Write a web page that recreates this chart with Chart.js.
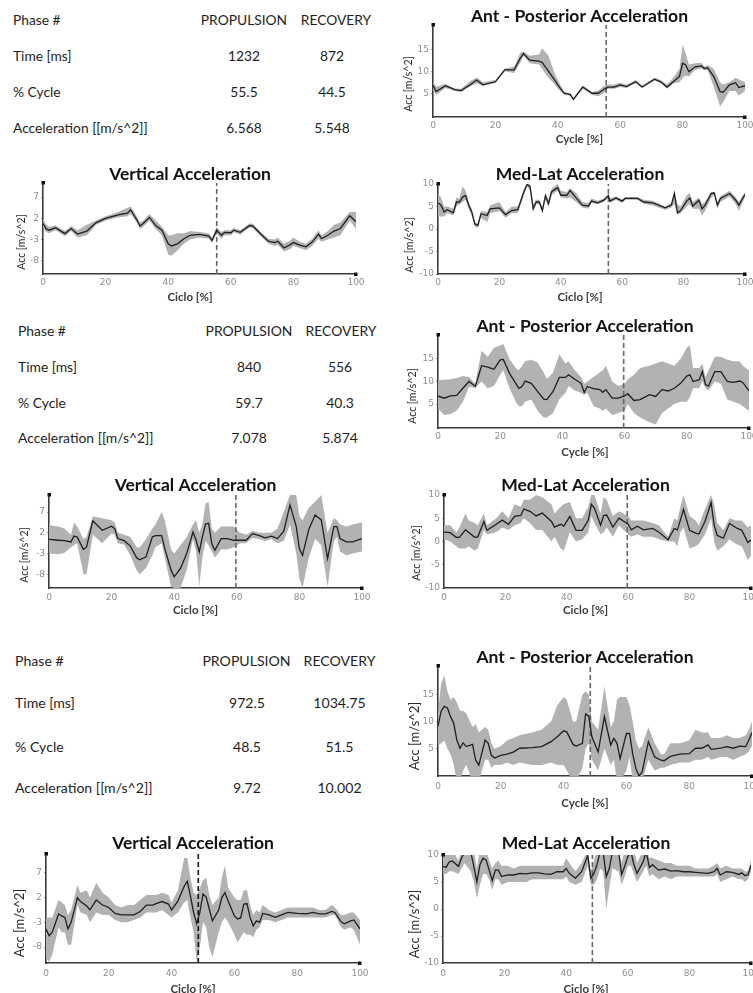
<!DOCTYPE html>
<html>
<head>
<meta charset="utf-8">
<script src="https://cdn.jsdelivr.net/npm/chart.js@4.4.1/dist/chart.umd.min.js"></script>
<style>
  html, body { margin: 0; padding: 0; background: #fff; }
  body { width: 753px; height: 993px; overflow: hidden; position: relative; font-family: Lato, sans-serif; }
  canvas { position: absolute; }
  .cell { position: absolute; white-space: nowrap; color: #1e1e1e; line-height: 1; }
</style>
</head>
<body>
<script>
// ---------- phase tables ----------
const phaseLabel = 'Phase #';
const phaseNames = ['PROPULSION', 'RECOVERY'];
const rowNames = ['Time [ms]', '% Cycle', 'Acceleration [[m/s^2]]'];

const timeMs1 = [1232, 872];
const cyclePct1 = [55.5, 44.5];
const accMean1 = [6.568, 5.548];

const timeMs2 = [840, 556];
const cyclePct2 = [59.7, 40.3];
const accMean2 = [7.078, 5.874];

const timeMs3 = [972.5, 1034.75];
const cyclePct3 = [48.5, 51.5];
const accMean3 = [9.72, 10.002];

// ---------- axis ticks and ranges ----------
const cycleTicksStep = 20;
const apTicks = [5, 10, 15];
const vertTicks = [-8, -3, 2, 7];
const mlTicks = [-10, -5, 0, 5, 10];

const apRange1 = [-0.4, 20.5];
const vertRange1 = [-11.1, 10.3];
const mlRange1 = [-10, 10];
const apRange2 = [-0.3, 20.3];
const vertRange2 = [-11.3, 11.1];
const mlRange2 = [-10, 10];
const apRange3 = [0, 20.2];
const vertRange3 = [-11.2, 10.8];
const mlRange3 = [-10, 10];

// ---------- trial 1 ----------
const apCycle1 = [0,1,4,7,9,12,14,16,20,23,26,28,29,31,34,35,37,39,40,42,44,45,48,51,53,55,56,58,60,62,65,67,71,73,75,77,79,80,81,82,84,86,87,88,90,92,93,95,97,98,100];
const apMean1  = [6.8,5.4,6.7,5.8,5.6,7.0,8.0,6.9,7.6,10.3,10.3,13.0,14.0,12.5,12.3,12.0,10.0,8.0,6.9,5.0,4.7,3.6,6.4,5.0,5.0,6.0,6.4,6.4,6.9,6.5,7.6,6.4,8.2,7.6,6.4,7.6,8.8,11.8,11.4,9.9,11.0,11.2,10.6,10.8,8.8,5.4,5.2,6.9,7.4,6.3,6.7];
const apLow1   = [5.8,4.6,6.2,5.5,5.3,6.6,7.2,6.7,7.3,10.0,9.6,12.0,13.5,11.8,11.5,10.5,8.5,7.0,6.0,4.7,4.4,3.4,6.0,4.6,4.3,5.2,6.0,6.0,6.4,6.2,7.3,6.2,7.9,7.3,6.0,7.2,7.5,8.5,9.0,8.8,10.3,10.6,10.2,10.3,6.5,2.0,3.0,5.5,5.5,4.5,5.5];
const apHigh1  = [7.8,6.5,7.1,6.1,6.0,7.8,8.6,7.5,8.0,10.6,11.0,14.2,14.5,13.5,13.8,15.2,13.5,9.5,8.0,5.3,5.0,3.9,6.8,5.3,5.6,6.8,6.9,7.0,7.4,6.9,8.0,6.7,8.5,8.0,7.0,8.5,10.5,16.0,14.0,11.5,11.8,11.9,11.0,11.4,10.5,7.5,7.0,7.5,8.5,8.2,7.5];

const vertCycle1 = [0,1,2,4,7,9,11,14,17,20,24,27,28,30,31,32,34,36,38,40,41,43,45,47,50,53,54,55.5,56,57,58,60,61,63,66,67,70,72,74,75,77,79,80,82,84,86,88,89,91,93,95,98,100];
const vertMean1  = [0.8,-0.5,-0.8,-0.2,-1.6,-0.4,-1.7,-1.0,1.0,2.0,2.8,3.2,4.0,1.6,0.2,0.8,2.2,0.3,-0.8,-4.0,-4.5,-4.0,-2.8,-2.0,-1.8,-2.2,-3.2,-0.8,-1.2,-2.0,-1.3,-1.4,-0.8,-1.3,0.3,0.2,-2.0,-3.4,-3.7,-3.4,-5.0,-4.2,-3.7,-4.3,-4.7,-3.6,-1.7,-2.8,-2.0,-1.0,-0.4,2.6,1.2];
const vertLow1   = [-0.3,-1.2,-1.5,-0.8,-2.2,-1.0,-2.5,-2.0,0.5,1.5,2.2,2.5,3.0,1.0,-0.5,0.0,1.5,-0.5,-2.0,-6.5,-6.8,-5.5,-4.0,-3.0,-2.5,-2.8,-3.8,-1.5,-2.0,-2.8,-2.0,-2.0,-1.3,-1.8,-0.2,-0.3,-2.5,-4.0,-4.5,-4.2,-5.8,-5.2,-4.5,-5.0,-5.5,-4.5,-2.8,-3.5,-3.0,-2.5,-2.0,1.5,-0.5];
const vertHigh1  = [2.0,0.5,0.0,0.3,-1.0,0.2,-0.8,0.5,1.5,2.5,3.5,4.5,4.8,2.5,1.0,1.5,3.0,1.5,0.0,-2.0,-2.0,-1.5,-1.5,-1.0,-1.2,-1.5,-2.5,0.0,-0.5,-1.2,-0.8,-0.8,-0.3,-0.8,0.8,0.7,-1.5,-2.8,-3.0,-2.5,-4.0,-3.2,-2.5,-3.5,-4.0,-2.8,-0.8,-2.0,-1.0,0.5,1.0,3.5,3.5];

const mlCycle1 = [0,1,2,3,5,6,7,8,9,10,11,12,13,14,16,17,20,22,24,26,28,29,30,31,32,33,34,35,36,37,39,40,42,43,45,47,49,50,52,54,55.5,56,58,60,61,65,67,70,74,76,77,78,79,81,82,83,85,86,87,89,90,91,92,95,97,98,100];
const mlMean1  = [5.8,5.3,3.8,4.3,3.6,6.0,6.0,7.1,7.4,5.3,3.8,1.1,0.8,3.4,3.0,4.5,4.7,3.2,4.1,4.3,8.3,9.9,9.4,4.5,6.0,6.0,4.1,7.4,5.6,8.3,9.2,7.5,7.5,8.6,6.9,5.3,5.1,6.2,5.8,6.4,7.4,6.2,6.9,6.2,6.8,6.8,6.0,5.8,4.7,5.3,7.9,3.6,4.1,6.2,6.9,5.1,6.4,4.5,5.3,7.9,8.0,5.3,6.8,7.9,6.4,5.3,7.7];
const mlLow1   = [2.8,2.8,2.8,3.5,3.0,5.0,5.5,6.0,6.5,4.5,3.0,0.5,0.3,2.5,1.5,3.5,4.0,2.5,3.5,3.5,7.5,9.5,8.5,3.8,5.5,5.5,3.5,6.5,5.0,7.5,8.5,7.0,6.8,7.0,6.0,4.8,4.5,5.8,5.5,6.0,7.0,5.8,6.5,5.8,6.5,6.5,5.6,5.2,4.3,4.8,5.5,3.2,3.5,5.0,5.5,4.5,4.5,3.0,4.0,7.0,7.5,4.5,6.0,7.2,5.5,4.0,7.2];
const mlHigh1  = [8.0,7.0,5.0,5.0,4.5,7.0,6.8,9.5,8.5,6.0,4.5,1.5,1.3,4.0,3.8,5.2,6.0,3.8,5.0,5.0,9.0,10.0,10.0,5.5,6.5,6.5,4.8,8.0,6.5,9.0,10.0,8.5,8.2,9.0,8.0,6.0,5.8,6.8,6.3,6.8,7.8,6.8,7.3,6.6,7.1,7.1,6.5,6.3,5.0,5.8,8.0,5.5,5.0,7.5,8.0,6.0,7.0,5.5,6.0,8.2,8.3,6.0,7.3,8.5,7.0,6.0,8.2];

// ---------- trial 2 ----------
const apCycle2 = [0,2,4,6,8,10,12,14,16,18,20,21,23,25,26,27,28,30,32,34,35,37,39,41,42,44,46,47,48,50,52,53,54,56,58,60,61,63,65,68,70,72,74,76,78,80,81,82,84,85,86,87,89,91,93,95,97,98,100];
const apMean2  = [6.8,6.3,6.8,6.9,8.5,10.0,8.9,13.5,13.2,12.7,14.8,14.9,11.8,9.6,8.5,8.9,10.1,9.6,7.8,6.1,6.0,7.8,10.9,10.9,11.5,10.5,9.6,7.6,8.9,8.4,8.2,7.6,8.2,6.3,6.3,6.8,7.3,5.8,6.0,7.1,6.7,8.2,7.9,8.5,9.6,11.2,11.5,10.0,10.4,12.2,9.3,9.0,12.2,12.2,10.0,9.8,10.1,9.8,7.9];
const apLow2   = [4.0,2.6,2.8,3.5,5.5,8.8,8.6,10.0,8.5,9.0,11.5,12.5,8.5,5.5,4.5,4.5,5.5,6.0,3.5,2.0,2.0,3.0,6.0,7.5,9.0,8.0,7.5,7.0,7.5,4.5,4.0,3.5,4.0,2.5,3.0,3.5,5.0,3.0,2.0,1.0,0.5,3.0,4.0,5.0,5.5,5.5,6.5,8.5,8.5,10.0,8.5,8.0,10.0,9.5,6.0,5.5,5.0,4.5,3.5];
const apHigh2  = [10.3,10.4,10.5,10.8,11.2,11.0,9.5,16.8,15.5,17.5,18.0,18.3,15.0,13.0,12.5,13.5,14.5,14.8,14.2,12.0,10.5,12.0,16.0,14.0,14.5,12.5,11.0,9.5,10.0,11.0,12.0,12.5,13.5,10.0,9.0,9.5,10.5,11.5,13.0,13.5,14.0,14.5,14.0,13.5,15.0,17.5,18.0,13.0,13.0,14.0,11.0,12.5,15.5,15.5,14.8,14.5,14.5,13.5,12.5];

const vertCycle2 = [0,3,5,7,8,9,11,12,14,17,20,21,22,24,26,28,29,31,33,34,36,37,39,40,42,44,46,47,48,49,50,51,52,53,55,57,59,61,63,65,67,69,71,73,75,77,79,80,81,83,85,87,89,91,92,93,95,97,100];
const vertMean2  = [0.4,0.2,0.1,-0.2,1.2,1.0,-2.0,-1.4,4.9,2.6,3.6,3.0,0.6,0.1,-1.2,-4.0,-4.5,-3.8,1.0,1.3,1.3,-1.8,-7.0,-8.6,-6.6,-3.0,2.2,0.2,-2.6,1.0,4.1,4.3,-0.6,-2.2,0.6,0.6,0.2,0.2,0.2,1.8,1.4,0.8,1.2,0.6,2.4,8.7,3.5,-1.8,-3.4,2.8,6.3,5.1,-4.2,3.5,3.5,0.6,-0.2,-0.2,0.6];
const vertLow2   = [-3.0,-3.2,-2.8,-1.5,-1.0,-0.5,-8.0,-8.0,1.5,-0.5,1.8,1.5,-0.5,-0.8,-3.5,-7.0,-8.0,-6.5,-3.5,-1.5,-0.5,-4.0,-11.0,-11.3,-11.3,-7.0,0.5,-2.5,-11.0,-4.0,0.0,-1.0,-2.5,-4.0,-2.0,-2.0,-1.5,-0.5,-0.5,0.8,0.5,0.0,0.5,-0.5,0.0,4.0,-3.0,-9.0,-11.3,-4.0,0.5,-1.0,-11.0,0.0,1.0,-2.5,-3.5,-3.0,-2.5];
const vertHigh2  = [3.8,3.5,3.0,1.5,4.5,3.5,0.5,1.0,6.0,5.5,5.0,4.5,2.0,1.5,1.0,-1.5,-1.5,0.5,3.0,4.0,7.0,5.0,-2.0,-3.0,-1.0,1.0,4.0,5.0,2.0,4.0,9.0,9.5,3.0,2.0,3.5,3.5,3.5,2.0,1.5,2.5,2.0,2.0,2.0,3.0,7.0,11.1,11.1,6.0,5.0,8.0,9.5,11.1,2.0,5.5,5.0,4.0,3.5,4.0,4.5];

const mlCycle2 = [0,2,4,5,7,8,10,11,13,14,17,19,21,23,25,26,28,30,32,35,36,38,39,41,43,45,47,48,49,51,52,53,55,57,60,61,63,65,68,70,73,75,76,77,78,80,82,83,85,87,88,89,91,93,95,97,99,100];
const mlMean2  = [2.0,1.9,0.9,0.9,2.5,2.0,0.9,1.0,4.3,2.4,3.7,4.6,3.7,5.4,5.6,7.0,6.5,5.5,6.1,4.3,3.1,3.7,3.3,5.4,2.4,2.4,4.6,8.0,7.2,3.5,5.6,5.7,3.1,5.0,3.7,2.5,3.3,2.5,2.8,2.0,0.4,2.8,2.5,4.6,6.9,2.4,1.8,1.6,4.3,8.4,3.5,1.3,0.7,3.9,3.0,2.4,-0.2,0.3];
const mlLow2   = [0.5,0.0,-1.0,-1.5,-1.5,-1.0,-2.0,-1.5,2.5,1.5,2.0,3.0,2.5,3.5,4.0,5.0,4.0,2.5,2.5,0.0,1.0,-1.5,-2.0,2.0,0.0,0.5,2.0,5.5,4.0,1.5,2.0,3.0,1.0,3.5,1.5,1.0,1.5,1.0,1.0,0.5,0.0,0.0,-1.0,2.0,3.0,-1.5,-1.0,-0.5,1.5,5.0,0.0,-2.0,-1.0,0.5,-0.5,-1.0,-4.0,-3.0];
const mlHigh2  = [3.5,3.5,2.0,3.0,6.0,4.5,4.0,3.5,6.0,3.5,5.0,6.5,5.0,8.0,7.5,9.0,9.0,10.0,9.5,8.0,6.0,7.5,8.0,8.5,5.0,5.0,7.5,10.0,10.0,6.0,9.5,9.0,5.5,6.5,5.5,4.5,4.5,4.5,4.0,3.5,1.0,5.0,4.5,7.5,10.0,5.5,4.5,3.5,7.0,10.0,8.0,4.0,2.5,5.0,4.5,4.5,3.0,3.5];

// ---------- trial 3 ----------
const apCycle3 = [0,1,2,3,4,5,6,7,8,9,11,12,13,15,16,17,18,20,22,24,26,30,33,36,38,40,41,43,44,46,47,48,49,51,53,55,56,57,58,60,61,62,63,64,65,67,69,71,72,74,77,80,82,84,86,87,90,92,94,96,98,99,100];
const apMean3  = [9.1,11.9,12.8,12.5,10.9,9.7,6.6,5.1,6.1,5.4,5.8,2.9,2.0,6.6,6.0,3.8,3.3,3.8,4.0,4.4,5.1,5.2,5.4,6.3,7.2,8.3,8.1,5.8,5.5,6.0,11.4,11.0,7.2,4.4,10.9,5.7,6.9,6.0,3.2,7.8,7.8,4.1,1.4,0.0,0.7,6.3,3.5,2.9,2.8,3.6,4.0,4.1,5.1,5.1,5.7,4.9,5.1,5.4,5.1,5.5,5.4,6.6,8.0];
const apLow3   = [5.5,6.0,6.5,5.0,4.0,2.0,-1.0,-1.0,1.0,2.0,-1.0,-1.0,-1.0,3.0,3.0,1.5,2.0,2.0,2.5,2.0,2.5,2.0,2.0,2.5,2.0,2.0,1.0,-1.0,-1.0,1.5,5.0,6.0,3.0,1.0,5.0,2.0,3.0,-1.0,-1.0,1.0,3.5,-1.0,-1.0,-1.0,-1.0,3.0,1.0,1.5,1.5,2.0,2.5,2.5,3.0,3.0,3.5,3.0,3.5,3.5,3.0,3.5,4.0,4.5,5.5];
const apHigh3  = [11.5,17.0,18.5,15.5,14.0,14.5,13.5,12.0,12.0,11.5,9.0,9.5,8.0,9.0,8.5,6.0,5.0,5.5,6.5,7.0,7.5,8.0,8.5,10.0,13.0,14.5,14.0,10.0,10.0,15.0,15.5,15.0,10.0,8.5,16.5,9.0,10.0,14.0,14.5,14.5,13.0,10.0,6.5,5.0,5.5,9.0,6.0,4.0,4.0,6.0,6.0,6.5,8.5,8.0,8.0,7.0,7.0,7.5,7.0,7.0,7.5,8.5,10.0];

const vertCycle3 = [0,1,2,4,5,6,7,8,10,11,13,14,16,18,20,22,24,26,28,30,32,34,35,37,39,40,42,44,45,46,47,48,49,50,51,52,53,55,56,57,58,60,61,62,63,64,65,66,67,68,69,71,73,75,77,80,83,85,87,89,91,92,94,95,97,98,100];
const vertMean3  = [-4.3,-5.7,-5.0,-1.3,-1.7,-2.0,-4.3,-3.0,2.0,1.2,0.3,-0.5,1.5,0.5,0.0,-1.2,-1.5,-1.5,-1.5,-0.8,0.5,0.5,0.8,1.2,0.7,-0.5,1.3,4.3,5.3,2.3,-1.0,-3.3,-1.0,2.7,2.1,-0.3,-2.7,-0.5,2.0,3.0,1.3,-1.7,-2.3,-2.1,0.7,0.8,-2.0,-3.7,-2.7,-3.0,-1.2,-1.5,-2.0,-1.5,-1.0,-1.2,-1.3,-1.0,-1.3,-1.3,-0.8,-1.0,-2.9,-3.3,-2.7,-2.5,-4.3];
const vertLow3   = [-10.0,-11.0,-9.5,-4.0,-5.0,-5.0,-7.5,-7.5,0.5,-1.0,-1.5,-3.0,-1.0,-1.5,-1.5,-2.5,-3.0,-3.0,-2.5,-2.0,-1.0,-1.0,-1.0,-0.5,-1.5,-2.0,-1.0,1.0,1.5,-2.0,-5.0,-11.0,-8.0,-3.0,-4.0,-8.0,-10.0,-5.0,-3.0,-2.0,-3.0,-5.5,-7.0,-6.0,-5.0,-5.5,-5.5,-6.0,-4.5,-4.0,-2.5,-2.5,-3.0,-2.5,-2.0,-2.0,-2.0,-2.0,-2.0,-2.0,-1.5,-1.5,-4.0,-4.5,-4.0,-4.5,-7.5];
const vertHigh3  = [-2.0,-2.0,-2.0,1.5,1.0,0.5,-1.5,-0.5,4.5,3.0,3.5,2.0,5.0,3.0,2.0,0.5,0.0,0.5,0.5,1.5,2.5,2.5,2.5,3.0,2.5,1.0,3.5,10.0,10.0,6.0,3.0,2.5,4.0,5.5,6.0,2.5,0.5,2.0,6.0,8.5,4.0,2.0,1.5,1.5,3.5,3.5,0.5,-1.5,-0.5,-1.0,0.5,-0.5,-1.0,-0.5,0.0,0.0,0.0,0.0,-0.5,-0.5,0.5,0.0,-1.5,-1.5,-1.0,-1.0,-2.5];

const mlCycle3 = [0,1,2,3,5,6,7,9,10,11,12,13,14,15,16,17,18,19,21,23,25,27,29,31,33,35,37,39,40,41,43,45,47,48,49,50,51,52,53,54,55,57,58,59,60,61,62,63,65,66,67,68,70,72,74,76,78,80,82,84,86,88,89,90,92,94,96,97,98,99,100];
const mlMean3  = [7.9,7.7,8.7,8.9,7.9,9.4,10.6,10.6,7.9,5.0,8.2,9.4,9.1,7.2,5.3,7.2,7.2,6.0,6.3,6.3,6.6,6.5,6.7,6.7,6.5,6.4,6.9,6.9,7.5,6.6,5.7,6.9,9.9,5.7,6.6,8.2,10.6,10.6,6.0,7.5,10.6,10.6,6.4,7.9,9.7,10.6,8.2,6.6,8.8,10.6,7.7,8.2,7.2,7.4,7.0,7.1,6.9,6.9,6.8,6.7,6.6,6.9,7.5,6.3,6.9,6.8,6.4,6.7,6.2,6.3,8.1];
const mlLow3   = [6.5,6.5,7.0,7.0,6.5,7.5,8.5,7.0,5.0,2.0,4.5,6.5,6.5,5.5,3.5,5.5,5.5,4.5,5.0,5.0,5.0,5.0,5.5,5.5,5.5,5.5,5.5,5.5,6.0,5.0,4.5,5.0,8.0,4.5,4.5,5.5,7.5,7.0,0.0,4.0,7.5,7.0,4.5,6.0,8.0,8.0,6.5,5.0,7.0,8.0,6.0,6.5,5.5,6.0,5.5,6.0,6.0,6.0,6.0,6.0,6.0,6.0,6.5,5.0,5.5,6.0,5.5,5.5,5.0,5.5,7.0];
const mlHigh3  = [9.5,11,11,11,9.0,11,11,11,11,7.5,11,11,11,9.0,7.5,8.5,9.0,8.0,8.0,7.5,8.0,8.0,8.0,8.0,8.0,8.0,8.0,8.0,9.5,8.5,7.0,8.5,11,7.0,9.0,11,11,11,11,11,11,11,8.5,11,11,11,11,8.5,11,11,9.5,9.5,9.0,8.5,8.5,8.0,8.0,8.0,7.5,7.5,7.5,8.0,8.5,7.5,8.0,7.5,7.5,7.5,7.0,7.0,9.0];

// ---------- tables ----------
function addCell(text, x, y, align, size) {
  const d = document.createElement('div');
  d.className = 'cell';
  d.textContent = text;
  d.style.left = x + 'px';
  d.style.top = y + 'px';
  d.style.fontSize = size + 'px';
  d.style.transform = align === 'center' ? 'translate(-50%,-50%)' : 'translate(0,-50%)';
  document.body.appendChild(d);
}

function phaseTable(rows, g) {
  addCell(phaseLabel, g.labelX, g.rowY[0], 'left', g.size);
  phaseNames.forEach((n, i) => addCell(n, g.headX[i], g.rowY[0], 'center', g.size));
  rows.forEach((vals, j) => {
    addCell(rowNames[j], g.labelX, g.rowY[j + 1], 'left', g.size);
    vals.forEach((v, i) => addCell(String(v), g.valX[i], g.rowY[j + 1], 'center', g.size));
  });
}

phaseTable([timeMs1, cyclePct1, accMean1], { labelX: 13, rowY: [20, 56, 92, 128], headX: [244, 336], valX: [244, 332], size: 13.8 });
phaseTable([timeMs2, cyclePct2, accMean2], { labelX: 18, rowY: [331, 367, 403, 438], headX: [249, 341], valX: [249, 340], size: 13.9 });
phaseTable([timeMs3, cyclePct3, accMean3], { labelX: 15, rowY: [661, 703, 747, 788], headX: [246.5, 339.5], valX: [247, 339.5], size: 14.1 });

// ---------- charts ----------
const pts = (xs, ys) => xs.map((x, i) => ({ x: x, y: ys[i] }));

// axis-end markers plus centred axis captions
const decor = {
  id: 'decor',
  afterDraw(chart, args, o) {
    const { ctx, chartArea: a } = chart;
    ctx.save();
    ctx.fillStyle = '#111';
    ctx.fillRect(a.left - 1.5, a.top - 2, 3.5, 3.5);
    ctx.fillRect(a.right - 2, a.bottom - 1.5, 3.5, 3.5);
    ctx.fillStyle = '#3a3a3a';
    ctx.textAlign = 'center';
    ctx.textBaseline = 'middle';
    ctx.font = 'bold 11.5px Lato';
    ctx.fillText(o.xTitle, o.xTitleX, o.xTitleY);
    ctx.translate(o.yTitleX, o.yTitleY);
    ctx.rotate(-Math.PI / 2);
    ctx.font = o.yTitleSize + 'px Lato';
    ctx.fillStyle = '#2a2a2a';
    ctx.fillText('Acc [m/s^2]', 0, 0);
    ctx.restore();
  }
};

function panel(title, xTitle, xs, mean, lo, hi, range, yTicks, cut, dashColor, g) {
  const cv = document.createElement('canvas');
  const cw = g.R - g.cl + 22;
  const ch = g.xTitleY - g.ct + 12;
  cv.width = cw; cv.height = ch;
  cv.style.left = g.cl + 'px';
  cv.style.top = g.ct + 'px';
  cv.style.width = cw + 'px';
  cv.style.height = ch + 'px';
  document.body.appendChild(cv);

  const padL = 2 * g.xc - g.R - g.cl;
  const yW = g.L - g.cl - padL;
  const padR = g.cl + cw - g.R;
  const xH = g.ct + ch - g.B;
  const titleSize = 17.5;
  const tPadTop = g.titleY - g.ct - 9;
  const tPadBottom = g.T - g.ct - tPadTop - 18;
  const labGap = g.xLabY - g.B - 3 - 5.4;
  const tickFont = { family: 'DejaVu Sans', size: 9 };

  new Chart(cv, {
    type: 'line',
    data: {
      datasets: [
        { data: pts(xs, mean), borderColor: '#1f1f1f', borderWidth: 1.3, pointRadius: 0, fill: false, tension: 0 },
        { data: [{ x: cut, y: range[0] }, { x: cut, y: range[1] }], borderColor: dashColor, borderDash: [5, 3], borderWidth: 1.6, pointRadius: 0, fill: false },
        { data: pts(xs, hi), borderWidth: 0, borderColor: 'rgba(0,0,0,0)', pointRadius: 0, backgroundColor: '#b2b2b2', fill: '+1', tension: 0 },
        { data: pts(xs, lo), borderWidth: 0, borderColor: 'rgba(0,0,0,0)', pointRadius: 0, fill: false, tension: 0 }
      ]
    },
    options: {
      responsive: false,
      animation: false,
      events: [],
      layout: { padding: { left: padL, right: padR, top: 0, bottom: 0 } },
      plugins: {
        legend: { display: false },
        tooltip: { enabled: false },
        title: {
          display: true, text: title, color: '#111',
          font: { family: 'Lato', size: titleSize, weight: 'bold', lineHeight: 18 / titleSize },
          padding: { top: tPadTop, bottom: tPadBottom }
        },
        decor: {
          xTitle: xTitle, xTitleX: g.xc - g.cl, xTitleY: g.xTitleY - g.ct,
          yTitleX: g.yTitleX - g.cl, yTitleY: g.yTitleY - g.ct, yTitleSize: g.yTitleSize
        }
      },
      scales: {
        x: {
          type: 'linear', min: 0, max: 100,
          ticks: { stepSize: cycleTicksStep, font: tickFont, color: '#8f8f8f', padding: labGap, maxRotation: 0, autoSkip: false },
          grid: { display: false, drawTicks: true, tickLength: 3 },
          border: { display: true, color: '#3a3a3a', width: 1.6 },
          afterFit: s => { s.height = xH; s.paddingLeft = 0; s.paddingRight = 0; }
        },
        y: {
          type: 'linear', min: range[0], max: range[1],
          afterBuildTicks: s => { s.ticks = yTicks.map(v => ({ value: v })); },
          ticks: { font: tickFont, color: '#8f8f8f', padding: 2 },
          grid: { display: true, drawOnChartArea: false, tickLength: 2, color: '#9a9a9a' },
          border: { display: true, color: '#3a3a3a', width: 1.6 },
          afterFit: s => { s.width = yW; s.paddingTop = 0; s.paddingBottom = 0; }
        }
      }
    },
    plugins: [decor]
  });
}

const AP = 'Ant - Posterior Acceleration', VT = 'Vertical Acceleration', ML = 'Med-Lat Acceleration';

panel(AP, 'Cycle [%]', apCycle1, apMean1, apLow1, apHigh1, apRange1, apTicks, cyclePct1[0], '#666',
  { cl: 400, ct: 0, L: 433, R: 745, T: 25, B: 117, xc: 579.5, titleY: 16, xLabY: 126, xTitleY: 139, yTitleX: 409, yTitleY: 84, yTitleSize: 10.5 });
panel(VT, 'Ciclo [%]', vertCycle1, vertMean1, vertLow1, vertHigh1, vertRange1, vertTicks, cyclePct1[0], '#666',
  { cl: 0, ct: 155, L: 43, R: 356, T: 183, B: 274, xc: 190, titleY: 174, xLabY: 283, xTitleY: 297, yTitleX: 22, yTitleY: 242, yTitleSize: 10.5 });
panel(ML, 'Ciclo [%]', mlCycle1, mlMean1, mlLow1, mlHigh1, mlRange1, mlTicks, cyclePct1[0], '#666',
  { cl: 400, ct: 155, L: 438, R: 745, T: 184, B: 274, xc: 580, titleY: 174, xLabY: 283, xTitleY: 297, yTitleX: 410, yTitleY: 245, yTitleSize: 10.5 });

panel(AP, 'Cycle [%]', apCycle2, apMean2, apLow2, apHigh2, apRange2, apTicks, cyclePct2[0], '#666',
  { cl: 400, ct: 310, L: 438, R: 749, T: 335, B: 428, xc: 585, titleY: 326, xLabY: 437, xTitleY: 452, yTitleX: 413, yTitleY: 396, yTitleSize: 10.5 });
panel(VT, 'Ciclo [%]', vertCycle2, vertMean2, vertLow2, vertHigh2, vertRange2, vertTicks, cyclePct2[0], '#666',
  { cl: 0, ct: 470, L: 49, R: 362, T: 495, B: 588, xc: 195.5, titleY: 485, xLabY: 598, xTitleY: 610, yTitleX: 25, yTitleY: 555, yTitleSize: 10.5 });
panel(ML, 'Ciclo [%]', mlCycle2, mlMean2, mlLow2, mlHigh2, mlRange2, mlTicks, cyclePct2[0], '#666',
  { cl: 400, ct: 470, L: 444, R: 751, T: 495, B: 588, xc: 585.5, titleY: 485, xLabY: 598, xTitleY: 610, yTitleX: 417, yTitleY: 553, yTitleSize: 10.5 });

panel(AP, 'Cycle [%]', apCycle3, apMean3, apLow3, apHigh3, apRange3, apTicks, cyclePct3[0], '#666',
  { cl: 400, ct: 640, L: 438, R: 752, T: 666, B: 776, xc: 585, titleY: 657, xLabY: 787, xTitleY: 803, yTitleX: 415, yTitleY: 736, yTitleSize: 13 });
panel(VT, 'Ciclo [%]', vertCycle3, vertMean3, vertLow3, vertHigh3, vertRange3, vertTicks, cyclePct3[0], '#111',
  { cl: 0, ct: 825, L: 46, R: 360, T: 854, B: 963, xc: 193, titleY: 843, xLabY: 974, xTitleY: 989, yTitleX: 20, yTitleY: 923, yTitleSize: 13 });
panel(ML, 'Ciclo [%]', mlCycle3, mlMean3, mlLow3, mlHigh3, mlRange3, mlTicks, cyclePct3[0], '#666',
  { cl: 400, ct: 825, L: 443, R: 751, T: 855, B: 963, xc: 586, titleY: 843, xLabY: 974, xTitleY: 989, yTitleX: 415, yTitleY: 924, yTitleSize: 13 });
</script>
</body>
</html>
